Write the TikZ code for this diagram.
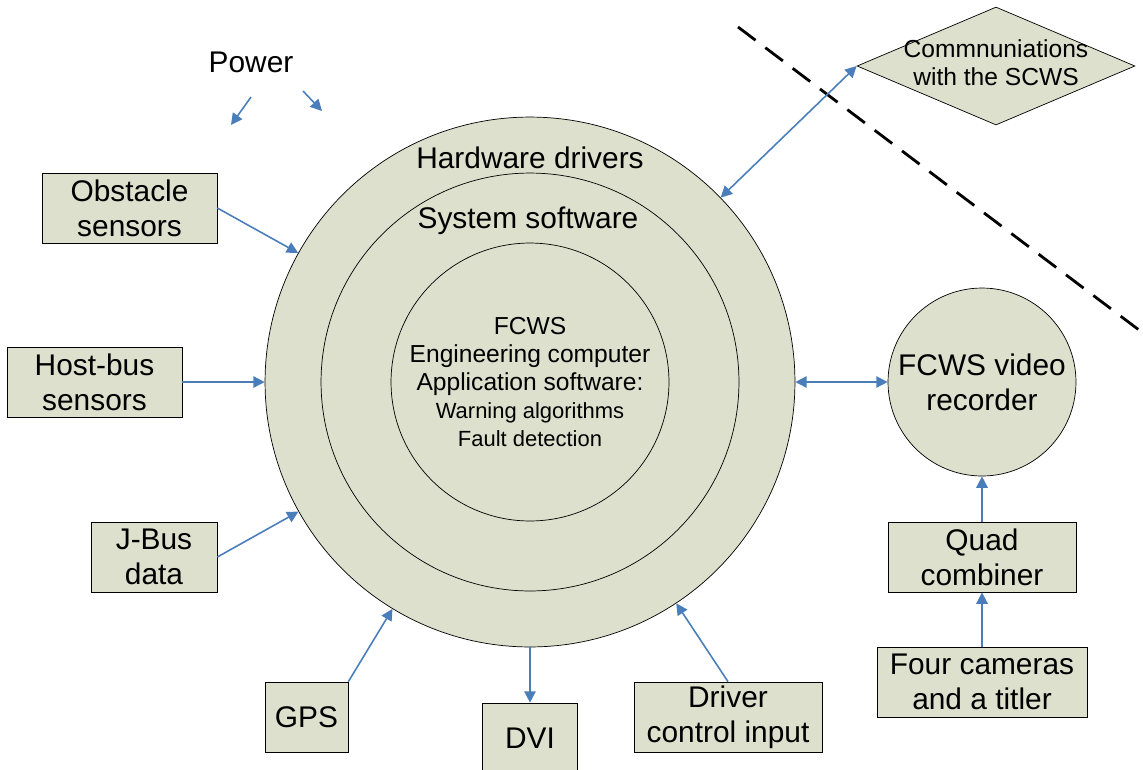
\documentclass[tikz,border=0pt]{standalone}
\usepackage{fontspec}
\setmainfont{Liberation Sans}
\usetikzlibrary{shapes.geometric,arrows.meta}
\definecolor{boxfill}{RGB}{221,224,204}
\definecolor{linkblue}{RGB}{74,126,187}
\tikzstyle{blk}=[rectangle,draw,fill=boxfill,align=center,minimum height=1.4cm,inner sep=0pt,font=\fontsize{17}{20}\selectfont]
\tikzstyle{ring}=[circle,draw,fill=boxfill,inner sep=0pt]
\tikzstyle{diam}=[diamond,draw,fill=boxfill,minimum width=5.56cm,minimum height=2.36cm,inner sep=0pt]
\tikzstyle{big}=[align=center,font=\fontsize{17}{20}\selectfont]
\tikzstyle{mid}=[align=center,font=\fontsize{14}{16}\selectfont]
\tikzstyle{arr}=[-{Triangle[length=6.5pt,width=6.5pt]},linkblue,line width=0.9pt]
\tikzstyle{biarr}=[{Triangle[length=6.5pt,width=6.5pt]}-{Triangle[length=6.5pt,width=6.5pt]},linkblue,line width=0.9pt]

\begin{document}
\begin{tikzpicture}[x=0.02cm,y=-0.02cm]
\useasboundingbox (0,0) rectangle (1143,769);
% central computer
\node (hw) [ring, minimum size=10.6cm] at (530,382) {};
\node (sw) [ring, minimum size=8.36cm] at (530,382) {};
\node (app) [ring, minimum size=5.56cm] at (530,382) {};
\node (hwtxt) [big] at (530,158) {Hardware drivers};
\node (swtxt) [big] at (528,221) {System software};
\node (apptxt) [mid] at (530,382) {FCWS\\Engineering computer\\Application software:\\{\fontsize{12.5}{16}\selectfont Warning algorithms}\\{\fontsize{12.5}{16}\selectfont Fault detection}};
% inputs
\node (obst) [blk, minimum width=3.5cm] at (129.5,208) {Obstacle\\sensors};
\node (host) [blk, minimum width=3.5cm] at (94.5,382) {Host-bus\\sensors};
\node (jbus) [blk, minimum width=2.52cm] at (154,557) {J-Bus\\data};
\node (gps) [blk, minimum width=1.66cm] at (306.5,717) {GPS};
\node (dvi) [blk, minimum width=1.9cm] at (530,738) {DVI};
\node (drv) [blk, minimum width=3.76cm] at (728,717) {Driver\\control input};
% video chain
\node (rec) [ring, big, minimum size=3.76cm] at (982,382) {FCWS video\\recorder};
\node (quad) [blk, minimum width=3.76cm] at (982,557) {Quad\\combiner};
\node (cams) [blk, minimum width=4.2cm] at (982,682) {Four cameras\\and a titler};
% SCWS link
\node (scws) [diam] at (996,66) {};
\node (scwstxt) [mid] at (996,63) {Commnuniations\\with the SCWS};
\node (pwr) [big] at (251,62) {Power};
\coordinate (pw1) at (251,97);
\coordinate (pw1e) at (231,125);
\coordinate (pw2) at (303,91);
\coordinate (pw2e) at (322,111);
\coordinate (cut1) at (738,27);
\coordinate (cut2) at (1143,333);
\draw [line width=1.6pt, dash pattern=on 12.5pt off 7pt] (cut1) -- (cut2);
\draw [arr] (obst.east) -- (hw);
\draw [arr] (host.east) -- (hw);
\draw [arr] (jbus.east) -- (hw);
\draw [arr] (gps.north east) -- (hw);
\draw [arr] (hw.south) -- (dvi.north);
\draw [arr] (drv.north) -- (hw);
\draw [biarr] (hw.east) -- (rec.west);
\draw [arr] (quad.north) -- (rec.south);
\draw [arr] (cams.north) -- (quad.south);
\draw [biarr] (hw) -- (scws.west);
\draw [arr] (pw1) -- (pw1e);
\draw [arr] (pw2) -- (pw2e);
\end{tikzpicture}
\end{document}
